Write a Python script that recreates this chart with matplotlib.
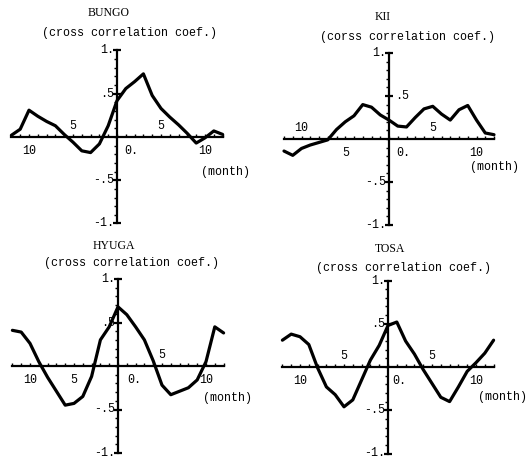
import numpy as np
import matplotlib
matplotlib.use("Agg")
import matplotlib.pyplot as plt

# Monthly lags and cross-correlation coefficients for each sea area
lags = np.arange(-12, 13)
bungo = [0.02, 0.09, 0.31, 0.24, 0.18, 0.13, 0.03, -0.06, -0.16, -0.18, -0.08, 0.13,
         0.42, 0.56, 0.64, 0.73, 0.48, 0.33, 0.23, 0.14, 0.04, -0.07, -0.01, 0.07, 0.03]
kii = [-0.14, -0.19, -0.11, -0.07, -0.04, -0.01, 0.11, 0.20, 0.27, 0.40, 0.37, 0.28,
       0.22, 0.15, 0.14, 0.25, 0.35, 0.38, 0.29, 0.22, 0.34, 0.39, 0.22, 0.07, 0.05]
hyuga = [0.41, 0.39, 0.26, 0.05, -0.13, -0.29, -0.45, -0.43, -0.35, -0.12, 0.30, 0.45,
         0.68, 0.59, 0.45, 0.30, 0.06, -0.22, -0.33, -0.29, -0.25, -0.16, 0.05, 0.45, 0.38]
tosa = [0.31, 0.38, 0.35, 0.26, -0.01, -0.23, -0.32, -0.46, -0.38, -0.15, 0.08, 0.25,
        0.48, 0.52, 0.30, 0.15, -0.03, -0.19, -0.35, -0.40, -0.23, -0.05, 0.05, 0.16, 0.31]

titles = ["BUNGO", "KII", "HYUGA", "TOSA"]
subtitles = ["(cross correlation coef.)", "(corss correlation coef.)",
             "(cross correlation coef.)", "(cross correlation coef.)"]
ytick_vals = [1.0, 0.5, -0.5, -1.0]
ytick_text = ["1.", ".5", "-.5", "-1."]
xtick_vals = [-10, -5, 5, 10]
xtick_text = ["10", "5", "5", "10"]

W, H = 531, 462
fig = plt.figure(figsize=(W / 100, H / 100), dpi=100)
fig.patch.set_facecolor("white")

MONO = ["Liberation Mono", "DejaVu Sans Mono"]
SERIF = ["Liberation Serif", "DejaVu Serif"]
FS = 8.4

# per panel: origin (px), units (px per month, px per 1.0), title positions,
# which side each x label goes (+1 above, -1 below), side of the .5 label,
# position of "(month)"
panels = [
    dict(data=bungo, x0=117, ux=8.8, y0=137, uy=86.5, t=(109, 13), s=(130, 33),
         xside=[-1, 1, 1, -1], half_right=False, zero_dx=1.6, month=(12.3, -0.40)),
    dict(data=kii, x0=389, ux=8.75, y0=139, uy=86.0, t=(383, 17), s=(407, 37),
         xside=[1, -1, 1, -1], half_right=True, zero_dx=1.6, month=(12.1, -0.33)),
    dict(data=hyuga, x0=118, ux=8.8, y0=366, uy=87.0, t=(114, 246), s=(131, 263),
         xside=[-1, -1, 1, -1], half_right=False, zero_dx=1.9, month=(12.4, -0.37)),
    dict(data=tosa, x0=388, ux=8.8, y0=367, uy=86.5, t=(390, 249), s=(403, 268),
         xside=[-1, 1, 1, -1], half_right=False, zero_dx=1.3, month=(13.0, -0.35)),
]

XL = (-12.6, 12.6)
YL = (-1.08, 1.08)

for p, title, sub in zip(panels, titles, subtitles):
    left = p["x0"] + XL[0] * p["ux"]
    right = p["x0"] + XL[1] * p["ux"]
    top = p["y0"] - YL[1] * p["uy"]
    bottom = p["y0"] - YL[0] * p["uy"]
    ax = fig.add_axes([left / W, 1 - bottom / H, (right - left) / W, (bottom - top) / H])
    ax.set_xlim(*XL)
    ax.set_ylim(*YL)
    ax.patch.set_alpha(0)

    for side in ("top", "right"):
        ax.spines[side].set_visible(False)
    ax.spines["left"].set_position(("data", 0))
    ax.spines["bottom"].set_position(("data", 0))
    ax.spines["left"].set_bounds(-1, 1)
    ax.spines["bottom"].set_bounds(-12, 12)
    for side in ("left", "bottom"):
        ax.spines[side].set_linewidth(1.6)
        ax.spines[side].set_color("black")

    ax.set_xticks(np.arange(-12, 13), minor=True)
    ax.set_xticks([])
    ax.tick_params(axis="x", which="minor", direction="in", length=2.5, width=1.0,
                   labelbottom=False)
    ax.set_yticks(ytick_vals)
    ax.set_yticks(np.round(np.arange(-1.0, 1.01, 0.1), 2), minor=True)
    ax.tick_params(axis="y", which="major", direction="inout", length=6, width=1.6,
                   labelleft=False)
    ax.tick_params(axis="y", which="minor", direction="out", length=2.2, width=1.0)

    ax.plot(lags, p["data"], color="black", lw=2.3, solid_joinstyle="round",
            solid_capstyle="round", clip_on=False, zorder=3)

    # y labels
    for v, s in zip(ytick_vals, ytick_text):
        if v == 0.5 and p["half_right"]:
            ax.text(0.7, v, s, ha="left", va="center", fontsize=FS, family=MONO)
        else:
            ax.text(-0.35, v, s, ha="right", va="center", fontsize=FS, family=MONO)

    # x labels, alternating above / below the axis
    for v, s, side in zip(xtick_vals, xtick_text, p["xside"]):
        y = 0.13 if side > 0 else -0.165
        ax.text(v, y, s, ha="center", va="center", fontsize=FS, family=MONO)
    ax.text(p["zero_dx"], -0.165, "0.", ha="center", va="center", fontsize=FS, family=MONO)

    ax.text(p["month"][0], p["month"][1], "(month)", ha="center", va="center",
            fontsize=FS, family=MONO)

    fig.text(p["t"][0] / W, 1 - p["t"][1] / H, title, ha="center", va="center",
             fontsize=8.5, family=SERIF)
    fig.text(p["s"][0] / W, 1 - p["s"][1] / H, sub, ha="center", va="center",
             fontsize=FS, family=MONO)

fig.savefig("out.png", dpi=100, facecolor="white")
